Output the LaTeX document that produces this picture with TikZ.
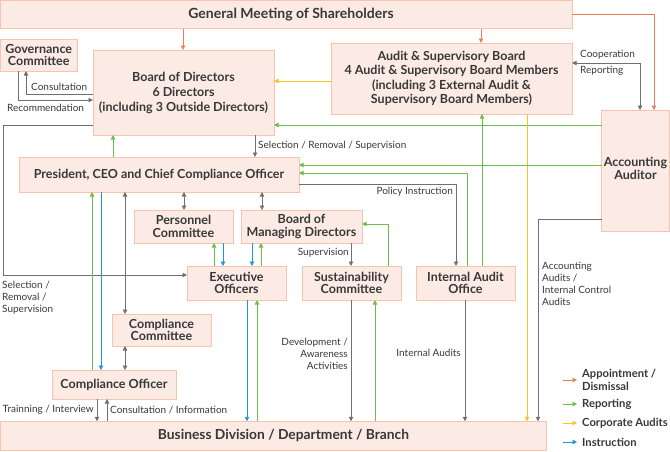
\documentclass[tikz,border=0pt]{standalone}
\usepackage{fontspec}
\setmainfont{Lato}
\usetikzlibrary{arrows.meta}
\definecolor{boxfill}{HTML}{FCEAE4}
\definecolor{boxline}{HTML}{F6C3B0}
\definecolor{txt}{HTML}{383838}
\definecolor{lgray}{HTML}{707070}
\definecolor{lorange}{HTML}{EF7D5A}
\definecolor{lgreen}{HTML}{6DBE4B}
\definecolor{lyellow}{HTML}{F7C51E}
\definecolor{lblue}{HTML}{1C9AD6}
\tikzset{
  box/.style={draw=boxline, fill=boxfill, line width=0.9pt, text=txt, align=center,
    inner sep=0pt, outer sep=0pt, font=\fontsize{12.5}{12.7}\selectfont\bfseries},
  conn/.style={line width=0.9pt, -{Triangle[width=4.5pt,length=4.5pt]}},
  dconn/.style={line width=0.9pt, {Triangle[width=4.5pt,length=4.5pt]}-{Triangle[width=4.5pt,length=4.5pt]}},
  grayA/.style={conn, draw=lgray},
  grayD/.style={dconn, draw=lgray},
  orA/.style={conn, draw=lorange},
  grA/.style={conn, draw=lgreen},
  yeA/.style={conn, draw=lyellow},
  blA/.style={conn, draw=lblue},
  lbl/.style={text=txt, inner sep=0pt, font=\fontsize{10}{12}\selectfont},
  leg/.style={text=txt, inner sep=0pt, font=\fontsize{11.2}{13}\selectfont\bfseries},
}
\begin{document}
\begin{tikzpicture}[x=1pt,y=-1pt]
\useasboundingbox (0,0) rectangle (670,451);
% boxes
\node[box, minimum width=572, minimum height=28.5, font=\fontsize{14}{15}\selectfont\bfseries] (gm) at (286,14.5) {\hspace*{10pt}General Meeting of Shareholders};
\node[box, minimum width=76.5, minimum height=32] (gov) at (38.7,55) {Governance\\Committee};
\node[box, minimum width=181, minimum height=85, font=\fontsize{12.5}{15}\selectfont\bfseries] (bod) at (183.5,92.5) {Board of Directors\\6 Directors\\(including 3 Outside Directors)};
\node[box, minimum width=241, minimum height=71, font=\fontsize{12.5}{14.5}\selectfont\bfseries] (asb) at (451.5,78.5) {Audit \& Supervisory Board\\4 Audit \& Supervisory Board Members\\(including 3 External Audit \&\\Supervisory Board Members)};
\node[box, minimum width=68, minimum height=121, text depth=4pt] (aud) at (635.5,170.5) {Accounting\\Auditor};
\node[box, minimum width=280, minimum height=35] (pres) at (159,174.5) {President, CEO and Chief Compliance Officer};
\node[box, minimum width=99, minimum height=33] (pc) at (183.5,226.5) {Personnel\\Committee};
\node[box, minimum width=121, minimum height=33] (bmd) at (301.5,226.5) {Board of\\Managing Directors};
\node[box, minimum width=99, minimum height=34] (exec) at (236.5,283) {Executive\\Officers};
\node[box, minimum width=99, minimum height=34] (sus) at (351.5,283) {Sustainability\\Committee};
\node[box, minimum width=99, minimum height=34] (iao) at (465.5,283) {Internal Audit\\Office};
\node[box, minimum width=99, minimum height=32] (cc) at (161.5,330) {Compliance\\Committee};
\node[box, minimum width=124, minimum height=29] (co) at (114,384.5) {Compliance Officer};
\node[box, minimum width=546, minimum height=29.5, font=\fontsize{13.8}{15}\selectfont\bfseries] (bd) at (273.5,436) {\hspace*{20pt}Business Division / Department / Branch};

% shareholders appointments
\draw[orA] (gm.south -| 183,0) -- (bod.north -| 183,0);
\draw[orA] (gm.south -| 481,0) -- (asb.north -| 481,0);
\draw[orA] (gm.east) -| (aud.north -| 654,0);
% cooperation / reporting
\draw[grayD] (asb.east |- 0,63) -| (aud.north -| 640,0);
\node[lbl, anchor=west] at (580,55) {Cooperation};
\node[lbl, anchor=west] at (580,71) {Reporting};
% audit board
\draw[yeA] (asb.west |- 0,81) -- (bod.east |- 0,81);
\draw[grA] (aud.west |- 0,125) -- (bod.east |- 0,125);
\draw[grA] (iao.north -| 482,0) -- (asb.south -| 482,0);
\draw[yeA] (asb.south -| 527,0) -- (bd.north -| 527,0);
\draw[grayA] (aud.west |- 0,219) -| (bd.north -| 538,0);
\node[lbl, anchor=north west, align=left] at (542,262) {Accounting\\Audits /\\Internal Control\\Audits};
% governance
\draw[grayA] (bod.west |- 0,94) -| (gov.south -| 26,0);
\draw[grayA] (gov.south -| 18,0) |- (bod.west |- 0,100);
\node[lbl, anchor=west] at (31,87) {Consultation};
\node[lbl, anchor=west] at (7,108) {Recommendation};
% board to executives
\draw[grayA] (bod.west |- 0,125) -| (3,275) -- (exec.west |- 0,275);
\node[lbl, anchor=north west, align=left] at (2,281) {Selection /\\Removal /\\Supervision};
% board - president
\draw[grayA] (bod.south -| 255,0) -- (pres.north -| 255,0);
\node[lbl, anchor=west] at (258,146) {Selection / Removal / Supervision};
\draw[grA] (pres.north -| 113,0) -- (bod.south -| 113,0);
% reporting to president
\draw[grA] (aud.west |- 0,165) -- (pres.east |- 0,165);
\draw[grA] (iao.north -| 467,0) |- (pres.east |- 0,173);
\draw[grayA] (pres.east |- 0,184) -| (iao.north -| 456,0);
\node[lbl, anchor=east] at (453,192) {Policy Instruction};
% president - committees
\draw[grayD] (pres.south -| 184,0) -- (pc.north -| 184,0);
\draw[grayD] (pres.south -| 262,0) -- (bmd.north -| 262,0);
\draw[grA] (exec.north -| 214,0) -- (pc.south -| 214,0);
\draw[blA] (pc.south -| 223,0) -- (exec.north -| 223,0);
\draw[blA] (bmd.south -| 252,0) -- (exec.north -| 252,0);
\draw[grA] (exec.north -| 261,0) -- (bmd.south -| 261,0);
\draw[grayA] (bmd.south -| 351,0) -- (sus.north -| 351,0);
\node[lbl, anchor=east] at (349,253) {Supervision};
\draw[grA] (sus.north -| 388,0) |- (bmd.east |- 0,224);
% compliance
\draw[grA] (co.north -| 92,0) -- (pres.south -| 92,0);
\draw[blA] (pres.south -| 101,0) -- (co.north -| 101,0);
\draw[grayD] (pres.south -| 125,0) -- (cc.north -| 125,0);
\draw[grayD] (cc.south -| 125,0) -- (co.north -| 125,0);
\draw[grayA] (co.south -| 97,0) -- (bd.north -| 97,0);
\draw[grayA] (bd.north -| 107,0) -- (co.south -| 107,0);
\node[lbl, anchor=east] at (94,410) {Trainning / Interview};
\node[lbl, anchor=west] at (110,410) {Consultation / Information};
% to business division
\draw[blA] (exec.south -| 247,0) -- (bd.north -| 247,0);
\draw[grA] (bd.north -| 257,0) -- (exec.south -| 257,0);
\draw[grayA] (sus.south -| 351,0) -- (bd.north -| 351,0);
\draw[grA] (bd.north -| 375,0) -- (sus.south -| 375,0);
\node[lbl, anchor=east, align=right] at (348,354) {Development /\\Awareness\\Activities};
\draw[grayA] (iao.south -| 465,0) -- (bd.north -| 465,0);
\node[lbl, anchor=east] at (461,353) {Internal Audits};
% legend
\draw[orA] (563,380) -- (577,380);
\draw[grA] (563,404) -- (577,404);
\draw[yeA] (563,423) -- (577,423);
\draw[blA] (563,442) -- (577,442);
\node[leg, anchor=west, align=left] at (582,380) {Appointment /\\Dismissal};
\node[leg, anchor=west] at (582,404) {Reporting};
\node[leg, anchor=west] at (582,423) {Corporate Audits};
\node[leg, anchor=west] at (582,442) {Instruction};
\end{tikzpicture}
\end{document}
